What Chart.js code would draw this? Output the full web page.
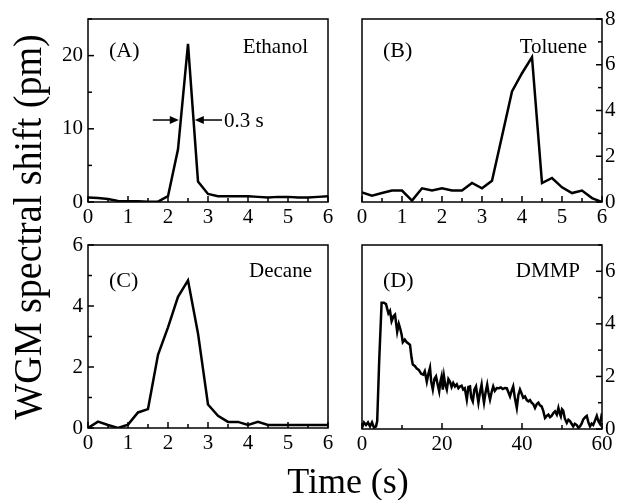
<!DOCTYPE html>
<html>
<head>
<meta charset="utf-8">
<script src="https://cdn.jsdelivr.net/npm/chart.js@4.4.0/dist/chart.umd.min.js"></script>
<style>
  body { margin: 0; background: #fff; }
  #wrap { position: relative; width: 623px; height: 500px; overflow: hidden; }
  canvas { position: absolute; left: 0; top: 0; }
</style>
</head>
<body>
<div id="wrap">
  <canvas id="cA" width="623" height="500"></canvas>
  <canvas id="cB" width="623" height="500"></canvas>
  <canvas id="cC" width="623" height="500"></canvas>
  <canvas id="cD" width="623" height="500"></canvas>
</div>
<script>
// time axis for panels A-C (s)
const quarterTime = [0, 0.25, 0.5, 0.75, 1, 1.25, 1.5, 1.75, 2, 2.25, 2.5, 2.75, 3,
  3.25, 3.5, 3.75, 4, 4.25, 4.5, 4.75, 5, 5.25, 5.5, 5.75, 6];

// WGM spectral shift (pm)
const ethanolShift = [0.6, 0.55, 0.4, 0.15, 0.1, 0.1, 0.05, 0.05, 0.8, 7.2, 21.6, 2.8, 1.1,
  0.8, 0.8, 0.8, 0.8, 0.7, 0.6, 0.7, 0.7, 0.6, 0.6, 0.7, 0.8];
const tolueneShift = [0.42, 0.28, 0.39, 0.5, 0.5, 0.06, 0.6, 0.5, 0.6, 0.5, 0.5, 0.83, 0.6,
  0.93, 2.87, 4.83, 5.63, 6.33, 0.83, 1.05, 0.64, 0.39, 0.5, 0.17, 0.0];
const decaneShift = [0.0, 0.21, 0.1, 0.0, 0.11, 0.51, 0.62, 2.4, 3.3, 4.3, 4.84, 3.1, 0.77,
  0.4, 0.2, 0.2, 0.1, 0.2, 0.1, 0.1, 0.1, 0.1, 0.1, 0.1, 0.1];

const dmmpTime = [0, 0.5, 1, 1.5, 2, 2.5, 3, 3.5, 3.8, 4.3, 4.9, 5.5, 6, 6.6, 7, 7.4, 7.9, 8.25,
  8.8, 9.2, 9.5, 9.9, 10.2, 10.7, 11.2, 11.6, 12, 12.4, 12.7, 13.2, 13.7, 14.2, 14.8, 15.3,
  15.7, 16.2, 16.6, 17, 17.3, 17.7, 18.1, 18.5, 18.9, 19.3, 19.6, 19.9, 20.2, 20.5, 20.8,
  21.2, 21.6, 22, 22.4, 22.8, 23.25, 23.7, 24.1, 24.5, 24.9, 25.3, 25.7, 26.2, 26.6, 27,
  27.3, 27.7, 28.1, 28.5, 28.8, 29.1, 29.5, 29.9, 30.2, 30.5, 30.9, 31.3, 31.6, 32, 32.4,
  32.8, 33.2, 33.7, 34.2, 34.7, 35.2, 35.7, 36.2, 36.6, 37, 37.4, 37.8, 38.2, 38.7, 39.1,
  39.5, 39.9, 40.3, 40.75, 41.2, 41.6, 42, 42.4, 42.8, 43.25, 43.7, 44.1, 44.5, 44.9, 45.3,
  45.75, 46.2, 46.6, 47, 47.4, 47.8, 48.25, 48.7, 49.1, 49.4, 49.7, 50, 50.3, 50.7, 51.2,
  51.6, 52, 52.4, 52.8, 53.2, 53.7, 54.1, 54.5, 54.9, 55.3, 55.8, 56.2, 56.6, 57, 57.4,
  57.8, 58.2, 58.7, 59.1, 59.5, 60];
const dmmpShift = [0.05, 0.25, 0.15, 0.25, 0.1, 0.25, 0.05, 0.1, 0.3, 2.6, 4.8, 4.8, 4.75,
  4.4, 4.5, 4.1, 4.3, 4.35, 3.7, 4.0, 3.85, 3.6, 3.3, 3.4, 3.3, 3.25, 3.2, 2.7, 2.45, 2.4,
  2.3, 2.25, 2.1, 2.07, 2.2, 1.8, 2.1, 2.33, 1.8, 1.5, 1.9, 2.0, 1.7, 1.43, 1.8, 2.0, 1.5,
  2.0, 1.7, 1.5, 1.9, 1.8, 1.6, 1.75, 1.62, 1.7, 1.55, 1.62, 1.65, 1.5, 1.55, 1.12, 1.6,
  1.62, 1.2, 1.05, 1.5, 1.62, 1.3, 1.0, 1.4, 1.69, 1.3, 1.0, 1.4, 1.69, 1.4, 1.12, 1.4,
  1.62, 1.45, 1.56, 1.55, 1.58, 1.52, 1.56, 1.55, 1.4, 1.24, 1.45, 1.62, 1.2, 0.8, 1.3,
  1.5, 1.35, 1.19, 1.24, 1.1, 1.05, 1.1, 1.0, 0.95, 0.8, 0.95, 1.0, 0.9, 0.86, 0.7, 0.42,
  0.5, 0.55, 0.45, 0.5, 0.6, 0.67, 0.55, 0.8, 0.6, 0.48, 0.75, 0.7, 0.4, 0.23, 0.35, 0.3,
  0.2, 0.1, 0.2, 0.15, 0.05, 0.1, 0.2, 0.36, 0.45, 0.5, 0.25, 0.1, 0.2, 0.15, 0.3, 0.5,
  0.3, 0.2, 0.6];

// tick labels
const shortTimeTicks = [0, 1, 2, 3, 4, 5, 6];
const longTimeTicks = [0, 20, 40, 60];
const ethanolTicks = [0, 10, 20];
const tolueneTicks = [0, 2, 4, 6, 8];
const decaneTicks = [0, 2, 4, 6];
const dmmpTicks = [0, 2, 4, 6];

const SERIF = '"Liberation Serif", "Times New Roman", serif';
const W = 623, H = 500;

const panels = [
  { id: 'A', tag: '(A)', name: 'Ethanol', t: quarterTime, v: ethanolShift,
    xTicks: shortTimeTicks, yTicks: ethanolTicks, xMax: 6, yMax: 25, side: 'left',
    area: { l: 88, r: 328, t: 19, b: 202 }, nameRight: 20, nameBase: 34, tagBase: 38 },
  { id: 'B', tag: '(B)', name: 'Toluene', t: quarterTime, v: tolueneShift,
    xTicks: shortTimeTicks, yTicks: tolueneTicks, xMax: 6, yMax: 8, side: 'right',
    area: { l: 362, r: 602, t: 19, b: 202 }, nameRight: 15, nameBase: 34, tagBase: 38 },
  { id: 'C', tag: '(C)', name: 'Decane', t: quarterTime, v: decaneShift,
    xTicks: shortTimeTicks, yTicks: decaneTicks, xMax: 6, yMax: 6, side: 'left',
    area: { l: 88, r: 328, t: 245, b: 428 }, nameRight: 16, nameBase: 32, tagBase: 42 },
  { id: 'D', tag: '(D)', name: 'DMMP', t: dmmpTime, v: dmmpShift,
    xTicks: longTimeTicks, yTicks: dmmpTicks, xMax: 60, yMax: 7, side: 'right',
    area: { l: 362, r: 602, t: 245, b: 429 }, nameRight: 22, nameBase: 32, tagBase: 42 }
];

function framePlugin(p) {
  return {
    id: 'frame' + p.id,
    afterDraw(chart) {
      const ctx = chart.ctx, a = chart.chartArea;
      const xs = chart.scales.x, ys = chart.scales.y;
      ctx.save();
      ctx.strokeStyle = '#000';
      ctx.fillStyle = '#000';
      ctx.lineWidth = 1.5;
      ctx.strokeRect(a.left, a.top, a.right - a.left, a.bottom - a.top);

      // inward tick marks, major + minor
      const xStep = p.xTicks[1] - p.xTicks[0];
      for (let v = 0; v <= p.xMax + 1e-9; v += xStep / 2) {
        const px = xs.getPixelForValue(v);
        const major = Math.abs(v / xStep - Math.round(v / xStep)) < 1e-6;
        ctx.beginPath();
        ctx.moveTo(px, a.bottom);
        ctx.lineTo(px, a.bottom - (major ? 6 : 4));
        ctx.stroke();
      }
      const yStep = p.yTicks[1] - p.yTicks[0];
      for (let v = 0; v <= p.yMax + 1e-9; v += yStep / 2) {
        const py = ys.getPixelForValue(v);
        const major = Math.abs(v / yStep - Math.round(v / yStep)) < 1e-6;
        const len = major ? 6 : 4;
        ctx.beginPath();
        if (p.side === 'left') { ctx.moveTo(a.left, py); ctx.lineTo(a.left + len, py); }
        else { ctx.moveTo(a.right, py); ctx.lineTo(a.right - len, py); }
        ctx.stroke();
      }

      // panel labels
      ctx.font = '22px ' + SERIF;
      ctx.textAlign = 'left';
      ctx.textBaseline = 'alphabetic';
      ctx.fillText(p.tag, a.left + 21, a.top + p.tagBase);
      ctx.font = '21px ' + SERIF;
      ctx.textAlign = 'right';
      ctx.fillText(p.name, a.right - p.nameRight, a.top + p.nameBase);

      if (p.id === 'A') {
        // FWHM annotation
        const y = ys.getPixelForValue(11.2);
        const arrow = (tail, tip) => {
          const x0 = xs.getPixelForValue(tail), x1 = xs.getPixelForValue(tip);
          const d = Math.sign(x1 - x0);
          ctx.lineWidth = 1.5;
          ctx.beginPath(); ctx.moveTo(x0, y); ctx.lineTo(x1 - d * 6, y); ctx.stroke();
          ctx.beginPath();
          ctx.moveTo(x1, y); ctx.lineTo(x1 - d * 9, y - 4); ctx.lineTo(x1 - d * 9, y + 4);
          ctx.closePath(); ctx.fill();
        };
        arrow(1.62, 2.27);
        arrow(3.35, 2.67);
        ctx.font = '21px ' + SERIF;
        ctx.textAlign = 'left';
        ctx.fillText('0.3 s', xs.getPixelForValue(3.4), y + 7);

        // axis titles
        ctx.font = '36px ' + SERIF;
        ctx.textAlign = 'center';
        ctx.fillText('Time (s)', 348, 493);
        ctx.save();
        ctx.translate(41, 227);
        ctx.scale(1.05, 1);
        ctx.rotate(-Math.PI / 2);
        ctx.font = '38px ' + SERIF;
        ctx.fillText('WGM spectral shift (pm)', 0, 0);
        ctx.restore();
      }
      ctx.restore();
    }
  };
}

function makeChart(p) {
  const yW = p.side === 'left' ? 40 : 21;
  const xH = 30;
  const padding = p.side === 'left'
    ? { left: p.area.l - yW, right: W - p.area.r, top: p.area.t, bottom: H - p.area.b - xH }
    : { left: p.area.l, right: W - p.area.r - yW, top: p.area.t, bottom: H - p.area.b - xH };
  const tickFont = { family: SERIF, size: 21 };
  return new Chart(document.getElementById('c' + p.id), {
    type: 'line',
    data: {
      datasets: [{
        data: p.t.map((t, i) => ({ x: t, y: p.v[i] })),
        borderColor: '#000',
        borderWidth: 2.5,
        pointRadius: 0,
        tension: 0,
        fill: false
      }]
    },
    options: {
      responsive: false,
      animation: false,
      layout: { padding },
      plugins: { legend: { display: false }, tooltip: { enabled: false } },
      scales: {
        x: {
          type: 'linear', min: 0, max: p.xMax,
          afterFit: s => { s.height = xH; },
          afterBuildTicks: s => { s.ticks = p.xTicks.map(v => ({ value: v })); },
          grid: { display: false, drawTicks: false },
          border: { display: false },
          ticks: { font: tickFont, color: '#000', padding: 3, maxRotation: 0, autoSkip: false }
        },
        y: {
          type: 'linear', position: p.side, min: 0, max: p.yMax,
          afterFit: s => { s.width = yW; },
          afterBuildTicks: s => { s.ticks = p.yTicks.map(v => ({ value: v })); },
          grid: { display: false, drawTicks: false },
          border: { display: false },
          ticks: { font: tickFont, color: '#000', padding: p.side === 'left' ? 5 : 3, autoSkip: false }
        }
      }
    },
    plugins: [framePlugin(p)]
  });
}

panels.forEach(makeChart);
</script>
</body>
</html>
